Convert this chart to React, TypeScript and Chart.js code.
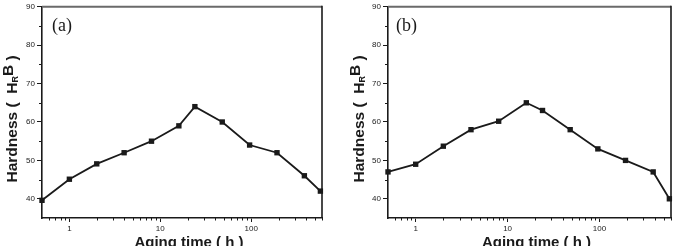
import { useEffect, useRef } from "react";
import { Chart, registerables } from "chart.js";

Chart.register(...registerables);

// Aging time in hours and Brinell hardness for the two alloys
const agingHours = [0.5, 1, 2, 4, 8, 16, 24, 48, 96, 192, 384, 576];
const hardnessA = [39.6, 45.1, 49.1, 52, 55, 59, 64, 60, 54, 52, 46, 42];
const hardnessB = [47, 49, 53.7, 58, 60.2, 65, 63, 58, 53, 50, 47, 40];

// Axis ticks
const xTickValues = [1, 10, 100];
const xMinorValues = [
  0.6, 0.7, 0.8, 0.9, 2, 3, 4, 5, 6, 7, 8, 9, 20, 30, 40, 50, 60, 70, 80, 90,
  200, 300, 400, 500, 600,
];
const yTickValues = [40, 50, 60, 70, 80, 90];
const yMinorValues = [45, 55, 65, 75, 85];

const INK = "#1a1a1a";
const CANVAS_H = 246;

type PanelProps = {
  tag: string;
  values: number[];
  width: number;
  areaLeft: number;
  areaRight: number;
  yTitleBaseline: number;
  tagX: number;
};

function Panel({ tag, values, width, areaLeft, areaRight, yTitleBaseline, tagX }: PanelProps) {
  const ref = useRef<HTMLCanvasElement | null>(null);

  useEffect(() => {
    const canvas = ref.current;
    if (!canvas) return;

    const decorations = {
      id: "decorations",
      afterDraw(chart: any) {
        const { ctx, chartArea } = chart;
        const { left, right, top, bottom } = chartArea;
        const xs = chart.scales.x;
        const ys = chart.scales.y;
        ctx.save();

        // closing frame: top and right edges
        ctx.strokeStyle = "#6a6a6a";
        ctx.lineWidth = 2;
        ctx.beginPath();
        ctx.moveTo(left, top);
        ctx.lineTo(right, top);
        ctx.stroke();
        ctx.strokeStyle = INK;
        ctx.lineWidth = 1.6;
        ctx.beginPath();
        ctx.moveTo(right, top - 1);
        ctx.lineTo(right, bottom);
        ctx.stroke();

        // minor ticks
        ctx.strokeStyle = INK;
        ctx.lineWidth = 1;
        ctx.beginPath();
        for (const v of xMinorValues) {
          const px = Math.round(xs.getPixelForValue(v)) + 0.5;
          if (px > right + 0.5) continue;
          ctx.moveTo(px, bottom);
          ctx.lineTo(px, bottom + 2.5);
        }
        for (const v of yMinorValues) {
          const py = Math.round(ys.getPixelForValue(v)) + 0.5;
          ctx.moveTo(left - 3, py);
          ctx.lineTo(left, py);
        }
        ctx.stroke();

        // panel tag
        ctx.fillStyle = INK;
        ctx.font = '18px "Liberation Serif", "Times New Roman", serif';
        ctx.textBaseline = "alphabetic";
        ctx.textAlign = "left";
        ctx.fillText(tag, tagX, 31);

        // x title (runs off the bottom edge)
        ctx.font = 'bold 15px "Liberation Sans", Arial, sans-serif';
        ctx.textAlign = "center";
        ctx.fillText("Aging time ( h )", (left + right) / 2 + 7, 247);

        // y title with subscript R
        ctx.translate(yTitleBaseline, 182.5);
        ctx.rotate(-Math.PI / 2);
        ctx.textAlign = "left";
        const big = 'bold 15.5px "Liberation Sans", Arial, sans-serif';
        const small = 'bold 9px "Liberation Sans", Arial, sans-serif';
        let cx = 0;
        ctx.font = big;
        const p1 = "Hardness (  H";
        ctx.fillText(p1, cx, 0);
        cx += ctx.measureText(p1).width;
        ctx.font = small;
        ctx.fillText("R", cx, 1);
        cx += ctx.measureText("R").width;
        ctx.font = big;
        ctx.fillText("B", cx, -3.5);
        cx += ctx.measureText("B").width;
        ctx.fillText(" )", cx, 0);

        ctx.restore();
      },
    };

    const tickFont = { family: '"Liberation Sans", Arial, sans-serif', size: 8 };

    const chart = new Chart(canvas, {
      type: "line",
      data: {
        datasets: [
          {
            data: agingHours.map((x, i) => ({ x, y: values[i] })),
            borderColor: INK,
            borderWidth: 1.8,
            backgroundColor: INK,
            pointStyle: "rect",
            pointRadius: 3.8,
            pointBorderWidth: 0,
            pointBackgroundColor: INK,
            tension: 0,
            clip: false as any,
          },
        ],
      },
      options: {
        responsive: false,
        animation: false,
        devicePixelRatio: 1,
        layout: { padding: { left: 0, right: width - areaRight, top: 6, bottom: 0 } },
        plugins: { legend: { display: false }, tooltip: { enabled: false } },
        scales: {
          x: {
            type: "logarithmic",
            min: 0.5,
            max: 600,
            afterBuildTicks: (s: any) => {
              s.ticks = xTickValues.map((v) => ({ value: v }));
            },
            afterFit: (s: any) => {
              s.height = CANVAS_H - 218;
            },
            ticks: {
              autoSkip: false,
              maxRotation: 0,
              padding: 2,
              color: "#222",
              font: tickFont,
              callback: (v: any) => String(v),
            },
            grid: { drawOnChartArea: false, drawTicks: true, tickLength: 4, color: INK, lineWidth: 1 },
            border: { display: true, color: INK, width: 1.6 },
          },
          y: {
            type: "linear",
            min: 35,
            max: 90,
            afterBuildTicks: (s: any) => {
              s.ticks = yTickValues.map((v) => ({ value: v }));
            },
            afterFit: (s: any) => {
              s.width = areaLeft;
            },
            ticks: { padding: 2, color: "#222", font: tickFont },
            grid: { drawOnChartArea: false, drawTicks: true, tickLength: 5, color: INK, lineWidth: 1 },
            border: { display: true, color: INK, width: 1.6 },
          },
        },
      },
      plugins: [decorations],
    });

    return () => chart.destroy();
  }, [tag, values, width, areaLeft, areaRight, yTitleBaseline, tagX]);

  return <canvas ref={ref} width={width} height={CANVAS_H} style={{ display: "block", width, height: CANVAS_H }} />;
}

export default function App() {
  return (
    <div
      style={{
        position: "fixed",
        left: 0,
        top: 0,
        width: 677,
        height: CANVAS_H,
        display: "flex",
        background: "#fff",
      }}
    >
      <Panel tag="(a)" values={hardnessA} width={338} areaLeft={42} areaRight={322} yTitleBaseline={16.5} tagX={52} />
      <Panel tag="(b)" values={hardnessB} width={339} areaLeft={50} areaRight={333} yTitleBaseline={25.5} tagX={58} />
    </div>
  );
}
